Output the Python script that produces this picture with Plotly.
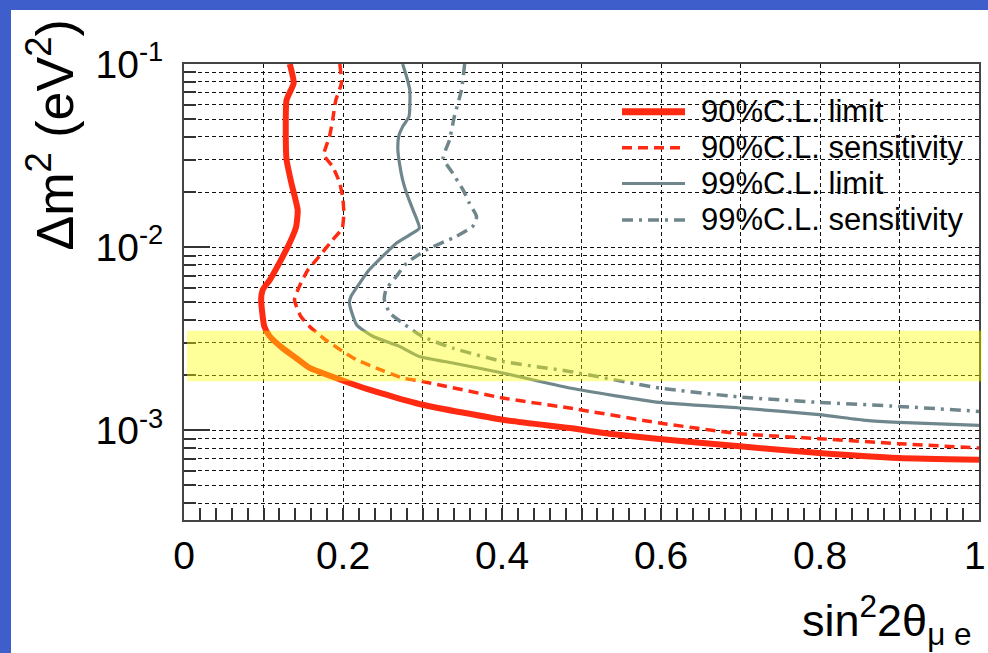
import plotly.graph_objects as go

# ---- exclusion contours: sin^2(2theta_mue) vs delta m^2 (eV^2) ----
lim90_x = [0.133, 0.138, 0.129, 0.128, 0.129, 0.135, 0.143, 0.141, 0.133, 0.120, 0.108, 0.099,
           0.097, 0.101, 0.108, 0.124, 0.141, 0.158, 0.191, 0.233, 0.300, 0.401, 0.485, 0.535,
           0.598, 0.699, 0.799, 0.899, 1.000]
lim90_y = [0.1, 0.0788, 0.0636, 0.0420, 0.0300, 0.02243, 0.01598, 0.0129, 0.01056, 0.00821,
           0.00663, 0.00585, 0.00516, 0.00369, 0.00325, 0.00281, 0.00248, 0.00219, 0.00193,
           0.001665, 0.001379, 0.001142, 0.001029, 0.000958, 0.000897, 0.000817, 0.000752,
           0.000706, 0.000691]

sens90_x = [0.196, 0.198, 0.191, 0.187, 0.183, 0.176, 0.187, 0.196, 0.200, 0.201, 0.199, 0.187,
            0.170, 0.156, 0.147, 0.139, 0.147, 0.158, 0.175, 0.200, 0.217, 0.242, 0.275, 0.300,
            0.401, 0.485, 0.598, 0.699, 0.799, 0.899, 1.000]
sens90_y = [0.1, 0.0785, 0.0636, 0.0495, 0.0401, 0.0319, 0.02753, 0.02234, 0.01811, 0.01533,
            0.01269, 0.01096, 0.00889, 0.00752, 0.00636, 0.00516, 0.00418, 0.00369, 0.00319,
            0.00269, 0.002427, 0.002187, 0.001929, 0.001848, 0.00150, 0.001323, 0.001096,
            0.000958, 0.000900, 0.000845, 0.000800]

lim99_x = [0.275, 0.280, 0.284, 0.283, 0.275, 0.270, 0.269, 0.271, 0.275, 0.280, 0.288, 0.296,
           0.284, 0.267, 0.254, 0.233, 0.221, 0.210, 0.208, 0.217, 0.238, 0.271, 0.296, 0.338,
           0.401, 0.485, 0.598, 0.699, 0.799, 0.858, 0.899, 1.000]
lim99_y = [0.1, 0.0852, 0.0721, 0.0516, 0.0455, 0.0401, 0.0340, 0.02873, 0.02329, 0.01971,
           0.01598, 0.01269, 0.01167, 0.01051, 0.00928, 0.00752, 0.00636, 0.00538, 0.00495,
           0.00377, 0.00325, 0.00287, 0.00253, 0.00233, 0.002054, 0.001701, 0.00142, 0.001323,
           0.001217, 0.001132, 0.001104, 0.001063]

sens99_x = [0.353, 0.349, 0.340, 0.334, 0.326, 0.338, 0.351, 0.359, 0.368, 0.363, 0.342, 0.305,
            0.280, 0.267, 0.254, 0.252, 0.259, 0.275, 0.300, 0.338, 0.401, 0.485, 0.598, 0.699,
            0.799, 0.899, 1.000]
sens99_y = [0.1, 0.0721, 0.0516, 0.0385, 0.0306, 0.02533, 0.02055, 0.01738, 0.01468, 0.01296,
            0.01142, 0.00967, 0.00818, 0.00691, 0.00585, 0.00516, 0.00436, 0.00385, 0.00325,
            0.00281, 0.002376, 0.002096, 0.001701, 0.00152, 0.00142, 0.00135, 0.001268]

# atmospheric delta m^2 band
band_dm2 = [0.00185, 0.0035]

legend_labels = ["90%C.L. limit", "90%C.L. sensitivity", "99%C.L. limit", "99%C.L. sensitivity"]

x_tickvals = [0.0, 0.1, 0.2, 0.3, 0.4, 0.5, 0.6, 0.7, 0.8, 0.9, 1.0]
x_ticktext = ["0", "", "0.2", "", "0.4", "", "0.6", "", "0.8", "", ""]
x_edge_label = "1"   # label of the last tick, placed so it stays inside the page
y_tickvals = [1e-3, 1e-2, 1e-1]
y_ticktext = ["10<sup>-3</sup>", "10<sup>-2</sup>", "10<sup>-1</sup>"]
y_minorvals = [m * d for d in (1e-4, 1e-3, 1e-2) for m in range(2, 10)]

RED = "#FF2A12"
GREY = "#6F878C"
FONT = "Liberation Sans, Arial, sans-serif"

W, H = 988, 653
ML, MR, MT, MB = 184, 9, 64, 133
PW, PH = W - ML - MR, H - MT - MB


def px(xp):
    return (xp - ML) / PW


def py(yp):
    return (H - MB - yp) / PH


styles = [
    (lim90_x, lim90_y, RED, 6, "solid"),
    (sens90_x, sens90_y, RED, 3.5, "10px,6px"),
    (lim99_x, lim99_y, GREY, 3.2, "solid"),
    (sens99_x, sens99_y, GREY, 3.5, "11px,6px,3px,6px"),
]

fig = go.Figure()
for (xs, ys, col, w, dash), name in zip(styles, legend_labels):
    fig.add_trace(go.Scatter(x=xs, y=ys, mode="lines", name=name,
                             line=dict(color=col, width=w, dash=dash, shape="spline", smoothing=0.5),
                             showlegend=False, cliponaxis=True))

grid = dict(gridcolor="#111111", gridwidth=1.2, griddash="4px,3px")

fig.update_layout(
    width=W, height=H,
    margin=dict(l=ML, r=MR, t=MT, b=MB, autoexpand=False),
    paper_bgcolor="white", plot_bgcolor="white",
    font=dict(family=FONT, color="black"),
    xaxis=dict(range=[0, 1], tickvals=x_tickvals, ticktext=x_ticktext, ticks="inside",
               ticklen=12, tickwidth=1.5, tickcolor="#333", showgrid=True, **grid,
               showline=True, linecolor="#444", linewidth=2, mirror=True, zeroline=False,
               tickfont=dict(size=39), ticklabelstandoff=0,
               automargin=False,
               minor=dict(dtick=0.02, tick0=0, ticks="inside", ticklen=12, tickwidth=1.5,
                          tickcolor="#333", showgrid=False)),
    yaxis=dict(type="log", range=[-3.49, -1], tickvals=y_tickvals, ticktext=y_ticktext,
               ticks="inside", ticklen=26, tickwidth=1.5, tickcolor="#333", showgrid=True, **grid,
               showline=True, linecolor="#444", linewidth=2, mirror=True, zeroline=False,
               tickfont=dict(size=39), ticklabelstandoff=11, ticklabeloverflow="allow",
               automargin=False,
               minor=dict(tickvals=y_minorvals, ticks="inside", ticklen=12, tickwidth=1.5,
                          tickcolor="#333", showgrid=True, **grid)),
)

shapes = [
    # slide border strips
    dict(type="rect", xref="paper", yref="paper", x0=px(0), x1=px(11), y0=py(H), y1=py(0),
         fillcolor="#3E5FCB", line_width=0, layer="below"),
    dict(type="rect", xref="paper", yref="paper", x0=px(0), x1=px(W), y0=py(10), y1=py(0),
         fillcolor="#3E5FCB", line_width=0, layer="below"),
    # translucent band on top of the contours
    dict(type="rect", xref="paper", yref="y", x0=px(187), x1=px(982),
         y0=band_dm2[0], y1=band_dm2[1], fillcolor="rgba(255,255,0,0.4)", line_width=0,
         layer="above"),
]

# legend
leg_rows = [111.7, 147.7, 183.5, 220]
annotations = []
for (xs, ys, col, w, dash), name, yr in zip(styles, legend_labels, leg_rows):
    shapes.append(dict(type="line", xref="paper", yref="paper", x0=px(622), x1=px(685),
                       y0=py(yr), y1=py(yr), line=dict(color=col, width=w + (1 if w > 5 else 0),
                                                       dash=dash), layer="above"))
    annotations.append(dict(xref="paper", yref="paper", x=px(699), y=py(yr), text=name,
                            showarrow=False, xanchor="left", yanchor="middle",
                            font=dict(size=31, family=FONT, color="black")))

# last x tick label, nudged left of the page edge
annotations.append(dict(xref="x", yref="paper", x=x_tickvals[-1], y=py(555), xshift=-4,
                        text=x_edge_label, showarrow=False, xanchor="center", yanchor="middle",
                        font=dict(size=39, family=FONT, color="black")))

# axis titles
annotations.append(dict(xref="paper", yref="paper", x=px(974), y=py(620),
                        text="sin<sup>2</sup>2θ<sub>μ e</sub>", showarrow=False,
                        xanchor="right", yanchor="middle",
                        font=dict(size=45, family=FONT, color="black")))
annotations.append(dict(xref="paper", yref="paper", x=px(51), y=py(18),
                        text="Δm<sup>2</sup> (eV<sup>2</sup>)", showarrow=False, textangle=-90,
                        xanchor="center", yanchor="top",
                        font=dict(size=52, family=FONT, color="black")))

fig.update_layout(shapes=shapes, annotations=annotations)
fig.write_html("out.html")
